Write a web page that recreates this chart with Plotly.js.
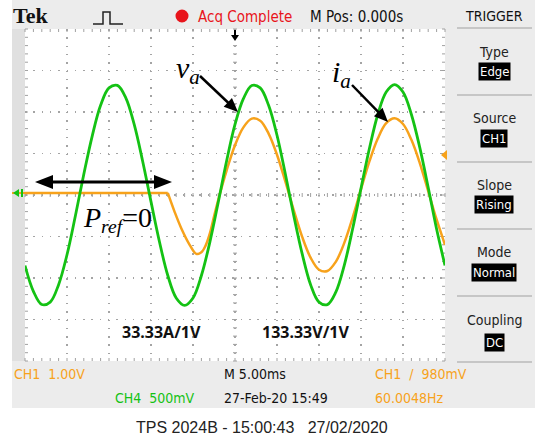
<!DOCTYPE html>
<html><head><meta charset="utf-8">
<script src="https://cdn.plot.ly/plotly-3.0.1.min.js"></script>
<style>html,body{margin:0;padding:0;background:#fff;}#chart{width:550px;height:444px;}</style>
</head><body><div id="chart"></div>
<script>
// ---- Data ----
// CH4 (green, voltage probe, 500 mV/div) : time in ms, value in V
const timeCH4 = [-25,-24,-23,-22,-21,-20,-19,-18,-17,-16,-15,-14,-13,-12,-11,-10,-9,-8,-7,-6,-5,-4,-3,-2,-1,0,1,2,3,4,5,6,7,8,9,10,11,12,13,14,15,16,17,18,19,20,21,22,23,24,25];
const ch4Volts = [-0.85,-1.16,-1.32,-1.29,-1.08,-0.72,-0.25,0.25,0.71,1.08,1.29,1.32,1.17,0.85,0.41,-0.08,-0.56,-0.97,-1.24,-1.33,-1.24,-0.97,-0.57,-0.09,0.41,0.85,1.16,1.32,1.29,1.08,0.72,0.25,-0.25,-0.71,-1.08,-1.29,-1.32,-1.17,-0.85,-0.41,0.08,0.56,0.97,1.24,1.33,1.24,0.97,0.57,0.09,-0.41,-0.85];
// CH1 (orange, current probe, 1.00 V/div) : time in ms, value in V
const timeCH1 = [-25,-22,-19,-16,-13,-10,-8,-7.2,-6.4,-5.4,-4.6,-4,-3.5,-3,-2.5,-2,-1,0,1,2,3,4,5,6,7,8,9,10,11,12,13,14,15,16,17,18,19,20,21,22,23,24,25];
const ch1Volts = [0.05,0.05,0.05,0.05,0.05,0.05,0.05,-0.40,-0.80,-1.20,-1.42,-1.38,-1.22,-0.93,-0.52,-0.12,0.59,1.20,1.63,1.84,1.79,1.48,0.97,0.32,-0.37,-1.01,-1.51,-1.80,-1.83,-1.61,-1.16,-0.55,0.14,0.81,1.36,1.73,1.85,1.71,1.33,0.77,0.09,-0.59,-1.20];
const knee = 6; // index where the current reference is switched on
// Labels
const menuLabels = ["Type","Source","Slope","Mode","Coupling"];
const menuValues = ["Edge","CH1","Rising","Normal","DC"];
const scaleLabels = ["33.33A/1V","133.33V/1V"];

// ---- Geometry helpers (pixels -> paper) ----
const L=25,R=445,T=29,B=361;
const px=x=>(x-L)/(R-L), py=y=>(B-y)/(B-T);
const COND="'Liberation Sans Narrow','DejaVu Sans Condensed','Arial Narrow',sans-serif";
const ORANGE='#f7a21b', GREEN='#14c214';
function rect(x0,y0,x1,y1,fill,layer){return {type:'rect',xref:'paper',yref:'paper',x0:px(x0),x1:px(x1),y0:py(y1),y1:py(y0),fillcolor:fill,line:{width:0},layer:layer||'below'};}
function seg(x0,y0,x1,y1,color,w,layer){return {type:'line',xref:'paper',yref:'paper',x0:px(x0),y0:py(y0),x1:px(x1),y1:py(y1),line:{color:color,width:w},layer:layer||'above'};}
function poly(pts,fill,layer){const d=pts.map((p,i)=>(i?'L':'M')+px(p[0]).toFixed(5)+','+py(p[1]).toFixed(5)).join('')+'Z';return {type:'path',xref:'paper',yref:'paper',path:d,fillcolor:fill,line:{width:0},layer:layer||'above'};}
function arrow(x0,y0,x1,y1,hl,hw,w){const dx=x1-x0,dy=y1-y0,len=Math.hypot(dx,dy),ux=dx/len,uy=dy/len;const bx=x1-ux*hl,by=y1-uy*hl;
  return [seg(x0,y0,bx+ux*2,by+uy*2,'#000',w),poly([[x1,y1],[bx-uy*hw,by+ux*hw],[bx+uy*hw,by-ux*hw]],'#000')];}

const shapes=[];
// screen background
shapes.push(rect(12,0,535,408,'#ececec'));
shapes.push(rect(12,T,L,B,'#e0e0e0'));
shapes.push(rect(L,T,R,B,'#ffffff'));
// graticule ticks (center cross + border)
let tp='';
const divX=(R-L)/10, divY=(B-T)/8, cx=L+5*divX, cy=T+4*divY;
for(let k=0;k<=50;k++){const x=L+k*divX/5;
  tp+=`M${px(x)},${py(cy-2)}L${px(x)},${py(cy+2)}`;
  tp+=`M${px(x)},${py(T)}L${px(x)},${py(T+3)}`;
  tp+=`M${px(x)},${py(B-3)}L${px(x)},${py(B)}`;}
for(let k=0;k<=40;k++){const y=T+k*divY/5;
  tp+=`M${px(cx-2)},${py(y)}L${px(cx+2)},${py(y)}`;
  tp+=`M${px(L)},${py(y)}L${px(L+3)},${py(y)}`;
  tp+=`M${px(R-3)},${py(y)}L${px(R)},${py(y)}`;}
shapes.push({type:'path',xref:'paper',yref:'paper',path:tp,line:{color:'#a0a0a0',width:1},fillcolor:'rgba(0,0,0,0)',layer:'below'});
// right menu separators
[28,95,162,229,296,362].forEach(y=>shapes.push(seg(457,y,532,y,'#c6c6c6',2,'below')));
// top icons
shapes.push({type:'path',xref:'paper',yref:'paper',path:`M${px(93)},${py(24)}L${px(103)},${py(24)}L${px(103)},${py(12)}L${px(110)},${py(12)}L${px(110)},${py(24)}L${px(123)},${py(24)}`,line:{color:'#222',width:1.5},fillcolor:'rgba(0,0,0,0)'});
shapes.push({type:'circle',xref:'paper',yref:'paper',x0:px(175.5),x1:px(188.5),y0:py(22.5),y1:py(9.5),fillcolor:'#e8141b',line:{width:0}});
// trigger position marker
shapes.push(seg(cx,30,cx,36,'#000',2));
shapes.push(poly([[cx-4,35],[cx+4,35],[cx,41]],'#000'));
// trigger level marker (right, orange)
shapes.push(poly([[447,150],[447,160],[441,155]],ORANGE));
// ground markers (left)
shapes.push(seg(12,193,25,193,ORANGE,2));
shapes.push(poly([[13,193],[19,189],[19,197]],GREEN));
shapes.push(seg(22,189,22,197,GREEN,2));
// annotation arrows
arrow(200,76,238,112,14,6,2.5).forEach(s=>shapes.push(s));
arrow(352,85,388,122,14,6,2.5).forEach(s=>shapes.push(s));
arrow(104,182,172,182,18,7,3).forEach(s=>shapes.push(s));
arrow(104,182,35,182,18,7,3).forEach(s=>shapes.push(s));

function txt(text,x,y,font,extra){return Object.assign({xref:'paper',yref:'paper',x:px(x),y:py(y),text:text,showarrow:false,xanchor:'left',yanchor:'middle',font:font},extra||{});}
const ann=[];
ann.push(txt('<b>Tek</b>',11,16,{family:'Liberation Serif, serif',size:22,color:'#111'}));
ann.push(txt('Acq Complete',196,17,{family:COND,size:15,color:'#e8141b'}));
ann.push(txt('M Pos: 0.000s',308,17,{family:COND,size:15,color:'#111'}));
ann.push(txt('TRIGGER',494,16,{family:COND,size:14,color:'#111'},{xanchor:'center'}));
const labY=[52,118,185,252,320], valY=[72,138,205,272,342];
menuLabels.forEach((t,i)=>ann.push(txt(t,494,labY[i],{family:COND,size:14,color:'#222'},{xanchor:'center'})));
menuValues.forEach((t,i)=>ann.push(txt(t,494,valY[i],{family:COND,size:13,color:'#fff'},{xanchor:'center',bgcolor:'#000',borderpad:1})));
ann.push(txt('CH1\u00a0\u00a01.00V',12,374,{family:COND,size:14,color:ORANGE}));
ann.push(txt('M 5.00ms',222,374,{family:COND,size:14,color:'#111'}));
ann.push(txt('CH1\u00a0\u00a0/\u00a0\u00a0980mV',373,374,{family:COND,size:14,color:ORANGE}));
ann.push(txt('CH4\u00a0\u00a0500mV',113,398,{family:COND,size:14,color:GREEN}));
ann.push(txt('27-Feb-20 15:49',222,398,{family:COND,size:14,color:'#111'}));
ann.push(txt('60.0048Hz',373,398,{family:COND,size:14,color:ORANGE}));
ann.push(txt('TPS 2024B - 15:00:43\u00a0\u00a0\u00a027/02/2020',262,427,{family:'Liberation Sans, Arial, sans-serif',size:16,color:'#222'},{xanchor:'center'}));
// chart labels
const SER='Liberation Serif, Times New Roman, serif';
ann.push(txt('<i>v</i><sub><i>a</i></sub>',174,70,{family:SER,size:30,color:'#000'}));
ann.push(txt('<i>i</i><sub><i>a</i></sub>',330,74,{family:SER,size:30,color:'#000'}));
ann.push(txt('<i>P</i><sub><i>ref</i></sub>=0',81,219,{family:SER,size:28,color:'#000'}));
ann.push(txt('<b>'+scaleLabels[0]+'</b>',161,332,{family:'Noto Sans, sans-serif',size:16,color:'#111'},{xanchor:'center'}));
ann.push(txt('<b>'+scaleLabels[1]+'</b>',305,332,{family:'Noto Sans, sans-serif',size:16,color:'#111'},{xanchor:'center'}));

const traces=[
 {x:timeCH1.slice(0,knee+1),y:ch1Volts.slice(0,knee+1),type:'scatter',mode:'lines',line:{color:ORANGE,width:2.5},yaxis:'y',hoverinfo:'skip'},
 {x:timeCH1.slice(knee),y:ch1Volts.slice(knee),type:'scatter',mode:'lines',line:{color:ORANGE,width:2.5,shape:'spline',smoothing:1},yaxis:'y',hoverinfo:'skip'},
 {x:timeCH4,y:ch4Volts,type:'scatter',mode:'lines',line:{color:GREEN,width:2.8,shape:'spline',smoothing:1},yaxis:'y2',hoverinfo:'skip'}
];
const ax={showgrid:true,gridcolor:'#a4a4a4',gridwidth:1.3,griddash:'1.5px,6.8px',zeroline:false,showticklabels:false,ticks:'',showline:false,fixedrange:true};
const layout={width:550,height:444,margin:{l:L,r:550-R,t:T,b:444-B,pad:0},paper_bgcolor:'#ffffff',plot_bgcolor:'#ffffff',showlegend:false,
 xaxis:Object.assign({range:[-25,25],tick0:-25,dtick:5},ax),
 yaxis:Object.assign({range:[-4,4],tick0:-4,dtick:1},ax),
 yaxis2:{range:[-2,2],overlaying:'y',visible:false,showgrid:false,zeroline:false},
 shapes:shapes,annotations:ann};
Plotly.newPlot('chart',traces,layout,{staticPlot:true,displayModeBar:false});
</script></body></html>
